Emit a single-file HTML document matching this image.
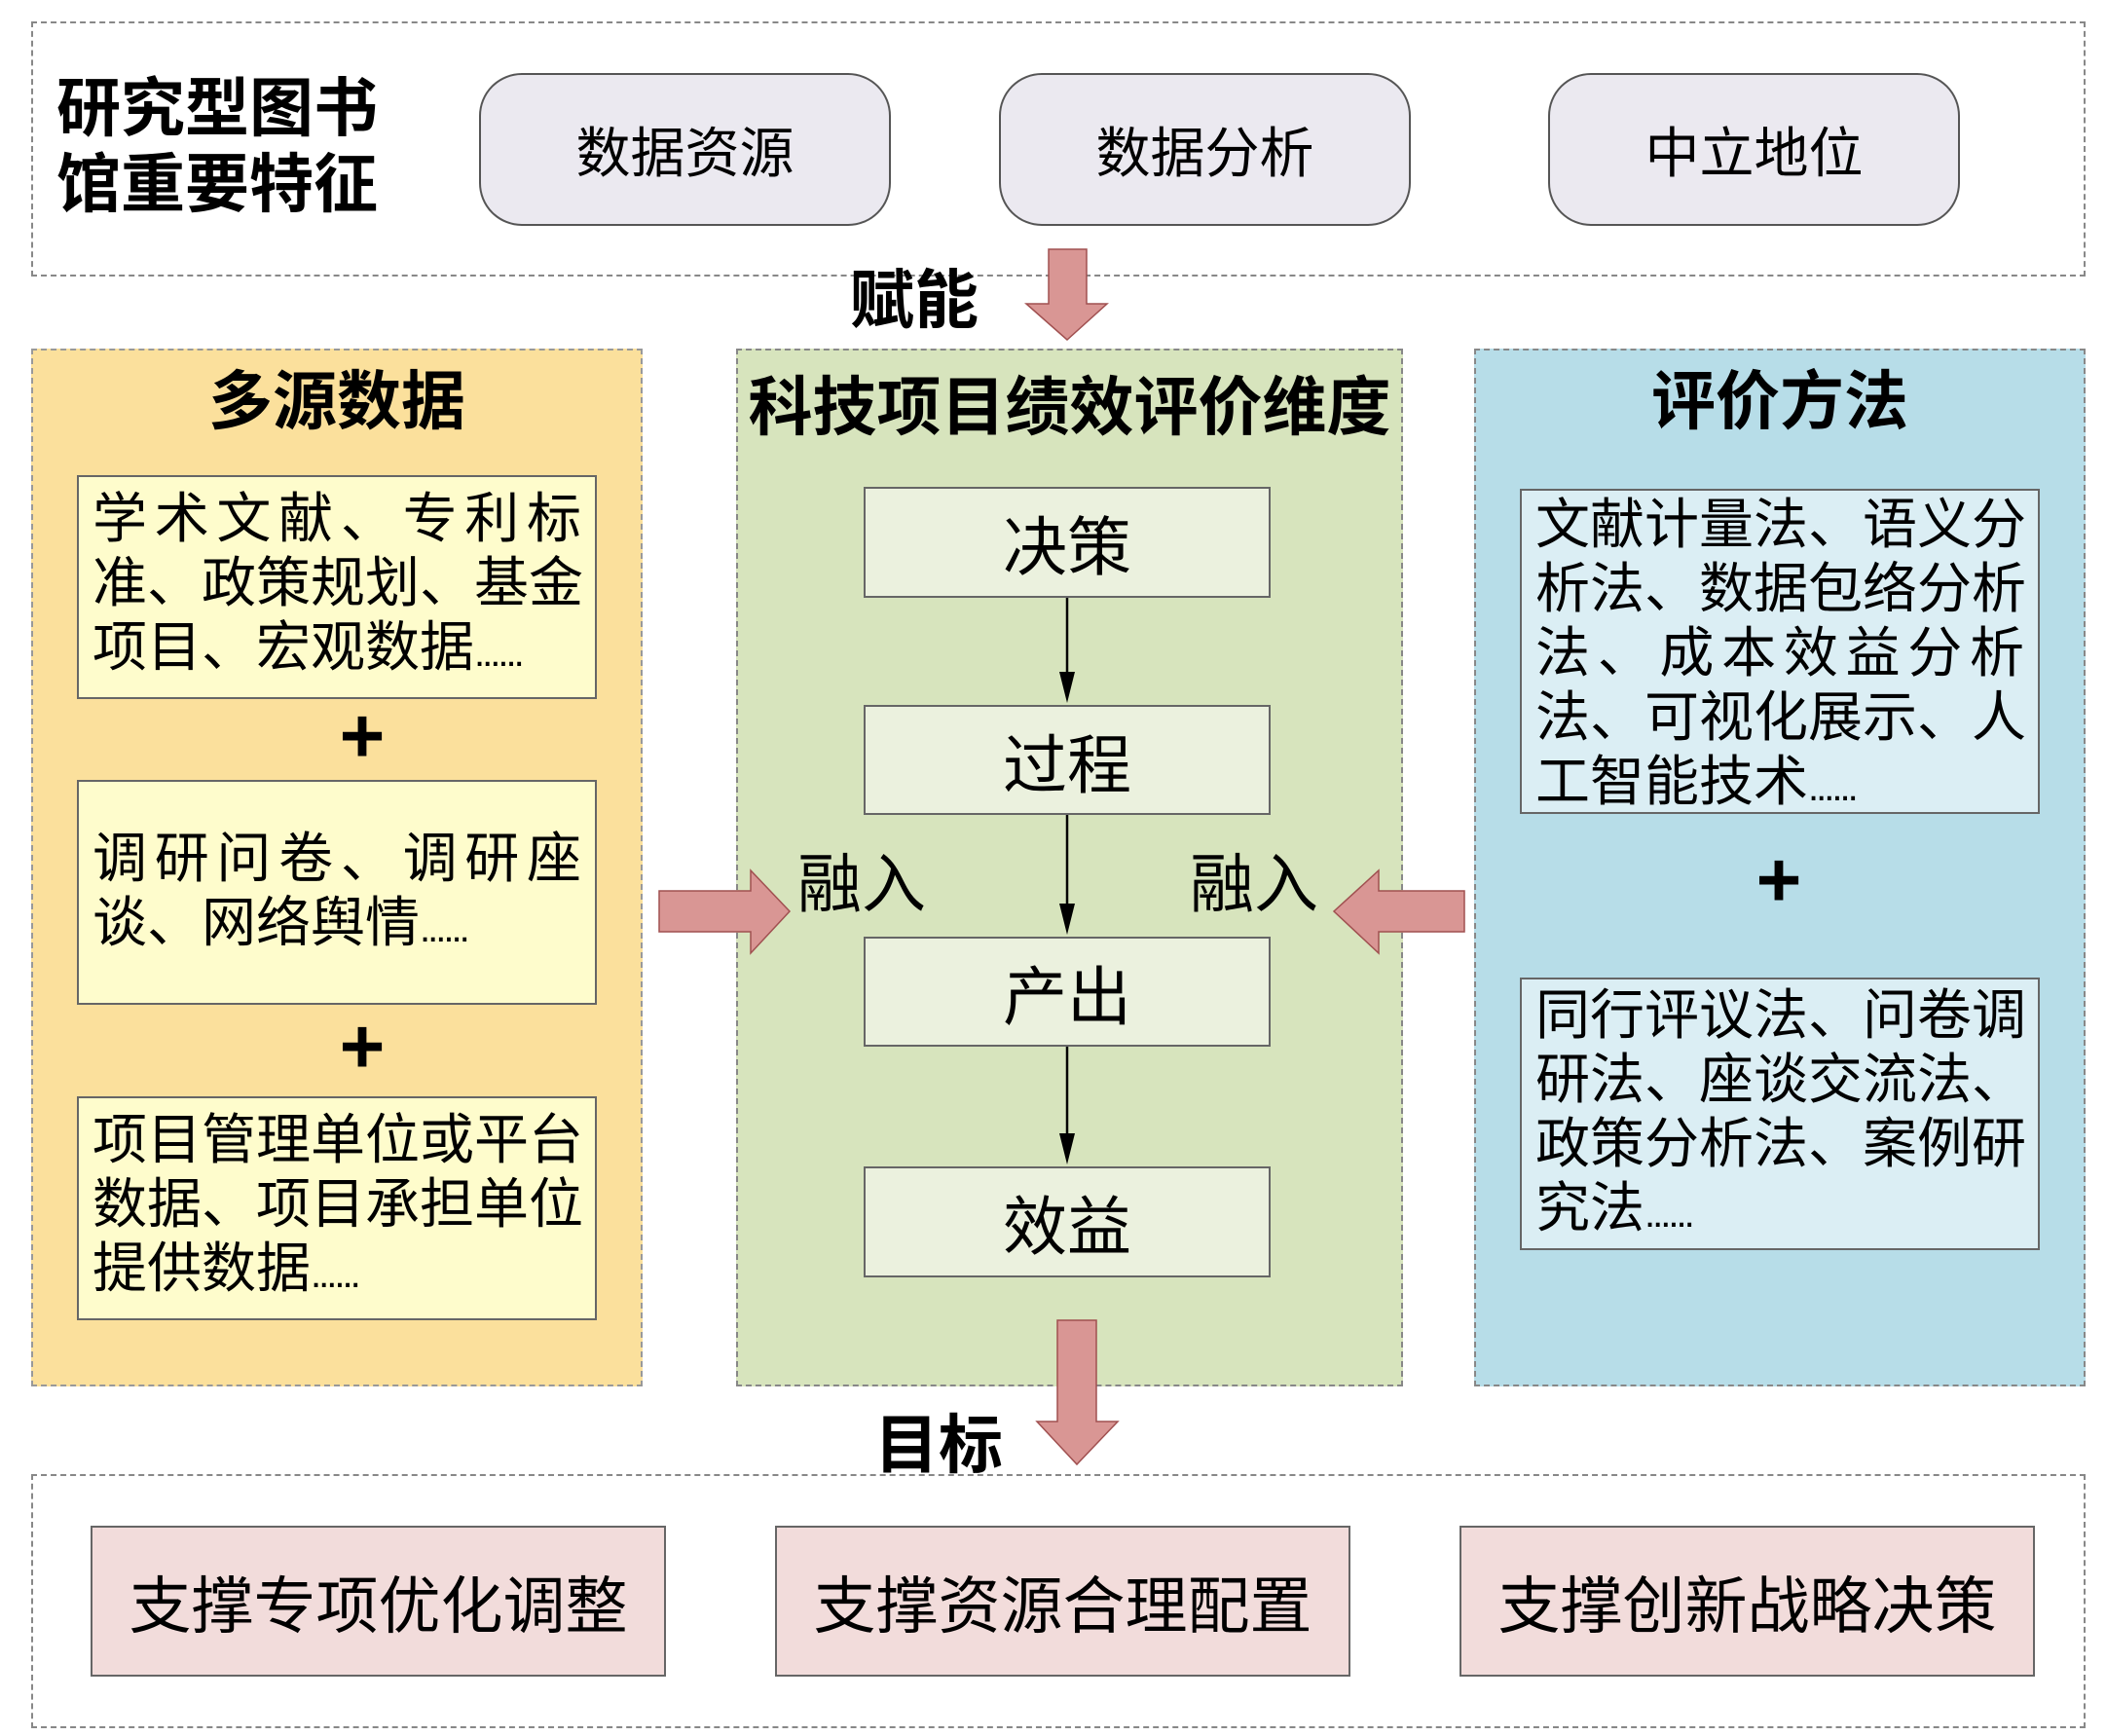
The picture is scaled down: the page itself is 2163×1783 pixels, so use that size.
<!DOCTYPE html>
<html><head><meta charset="utf-8"><style>
*{margin:0;padding:0;box-sizing:border-box}
body{width:2163px;height:1783px;background:#fff;position:relative;overflow:hidden;font-family:"Liberation Sans","Noto Sans CJK SC",sans-serif;color:#000}
.a{position:absolute}
.dash{position:absolute;border:2px dashed #888}
.pill{position:absolute;background:#ebe9f0;border:2px solid #555;border-radius:44px;font-size:56px;display:flex;align-items:center;justify-content:center}
.t{position:absolute;font-weight:bold;text-align:center;white-space:nowrap}
.box{position:absolute;border:2px solid #666}
.box .l{position:absolute;left:14px;right:14px;font-size:56px;line-height:66px;white-space:nowrap}
.j{text-align:justify;text-align-last:justify}
.e{display:inline-block;font-size:40px;letter-spacing:-3px}
.mb{position:absolute;left:887px;width:418px;background:#ebf1de;border:2px solid #666;font-size:66px;display:flex;align-items:center;justify-content:center}
.bb{position:absolute;top:1567px;height:155px;width:591px;background:#f2dcdb;border:2px solid #666;font-size:64px;display:flex;align-items:center;justify-content:center}
.plus{position:absolute;font-size:80px;font-weight:bold;line-height:80px;width:80px;text-align:center}
</style></head><body>
<div class="dash" style="left:32px;top:22px;width:2110px;height:262px"></div>
<div class="t" style="left:58px;top:72px;font-size:66px;line-height:78px;text-align:left">研究型图书<br>馆重要特征</div>
<div class="pill" style="left:492px;top:75px;width:423px;height:157px">数据资源</div>
<div class="pill" style="left:1026px;top:75px;width:423px;height:157px">数据分析</div>
<div class="pill" style="left:1590px;top:75px;width:423px;height:157px">中立地位</div>

<div class="a" style="left:32px;top:358px;width:628px;height:1066px;background:#fbe09c;border:2px dashed #999"></div>
<div class="a" style="left:756px;top:358px;width:685px;height:1066px;background:#d7e4bd;border:2px dashed #888"></div>
<div class="a" style="left:1514px;top:358px;width:628px;height:1066px;background:#b7dde8;border:2px dashed #888"></div>

<div class="t" style="left:32px;width:628px;top:372px;font-size:66px;line-height:80px">多源数据</div>
<div class="t" style="left:756px;width:685px;top:378px;font-size:66px;line-height:80px">科技项目绩效评价维度</div>
<div class="t" style="left:1514px;width:628px;top:372px;font-size:66px;line-height:80px">评价方法</div>

<div class="box" style="left:79px;top:488px;width:534px;height:230px;background:#fefccc">
<div class="l j" style="top:10px">学术文献、专利标</div>
<div class="l j" style="top:76px">准、政策规划、基金</div>
<div class="l" style="top:142px">项目、宏观数据<span class="e">......</span></div>
</div>
<div class="plus" style="left:332px;top:716px">+</div>
<div class="box" style="left:79px;top:801px;width:534px;height:231px;background:#fefccc">
<div class="l j" style="top:46px">调研问卷、调研座</div>
<div class="l" style="top:112px">谈、网络舆情<span class="e">......</span></div>
</div>
<div class="plus" style="left:332px;top:1035px">+</div>
<div class="box" style="left:79px;top:1126px;width:534px;height:230px;background:#fefccc">
<div class="l j" style="top:10px">项目管理单位或平台</div>
<div class="l j" style="top:76px">数据、项目承担单位</div>
<div class="l" style="top:142px">提供数据<span class="e">......</span></div>
</div>

<div class="box" style="left:1561px;top:502px;width:534px;height:334px;background:#dbeef4">
<div class="l j" style="top:2px">文献计量法、语义分</div>
<div class="l j" style="top:68px">析法、数据包络分析</div>
<div class="l j" style="top:134px">法、成本效益分析</div>
<div class="l j" style="top:200px">法、可视化展示、人</div>
<div class="l" style="top:266px">工智能技术<span class="e">......</span></div>
</div>
<div class="plus" style="left:1787px;top:864px">+</div>
<div class="box" style="left:1561px;top:1004px;width:534px;height:280px;background:#dbeef4">
<div class="l j" style="top:4px">同行评议法、问卷调</div>
<div class="l" style="top:70px">研法、座谈交流法、</div>
<div class="l j" style="top:136px">政策分析法、案例研</div>
<div class="l" style="top:202px">究法<span class="e">......</span></div>
</div>

<div class="mb" style="top:500px;height:114px">决策</div>
<div class="mb" style="top:724px;height:113px">过程</div>
<div class="mb" style="top:962px;height:113px">产出</div>
<div class="mb" style="top:1198px;height:114px">效益</div>

<div class="t" style="left:873px;top:268px;font-size:66px;line-height:80px">赋能</div>
<div class="t" style="left:898px;top:1444px;font-size:66px;line-height:80px">目标</div>
<div class="a" style="left:819px;top:868px;font-size:66px;line-height:80px">融入</div>
<div class="a" style="left:1222px;top:868px;font-size:66px;line-height:80px">融入</div>

<div class="dash" style="left:32px;top:1514px;width:2110px;height:261px"></div>
<div class="bb" style="left:93px">支撑专项优化调整</div>
<div class="bb" style="left:796px">支撑资源合理配置</div>
<div class="bb" style="left:1499px">支撑创新战略决策</div>

<svg class="a" style="left:0;top:0" width="2163" height="1783">
<g stroke="#000" stroke-width="2.5">
<line x1="1096" y1="614" x2="1096" y2="700"/><path d="M1088,690 L1096,722 L1104,690 Z" fill="#000" stroke="none"/>
<line x1="1096" y1="837" x2="1096" y2="940"/><path d="M1088,928 L1096,960 L1104,928 Z" fill="#000" stroke="none"/>
<line x1="1096" y1="1075" x2="1096" y2="1176"/><path d="M1088,1164 L1096,1196 L1104,1164 Z" fill="#000" stroke="none"/>
</g>
<g fill="#d99694" stroke="#a05050" stroke-width="1.5">
<path d="M1077,256 L1116,256 L1116,312 L1137,312 L1096,349 L1054,312 L1077,312 Z"/>
<path d="M1086,1356 L1126,1356 L1126,1460 L1148,1460 L1106,1504 L1065,1460 L1086,1460 Z"/>
<path d="M677,915 L771,915 L771,894 L811,936 L771,979 L771,957 L677,957 Z"/>
<path d="M1504,915 L1416,915 L1416,894 L1370,936 L1416,979 L1416,957 L1504,957 Z"/>
</g>
</svg>
</body></html>
